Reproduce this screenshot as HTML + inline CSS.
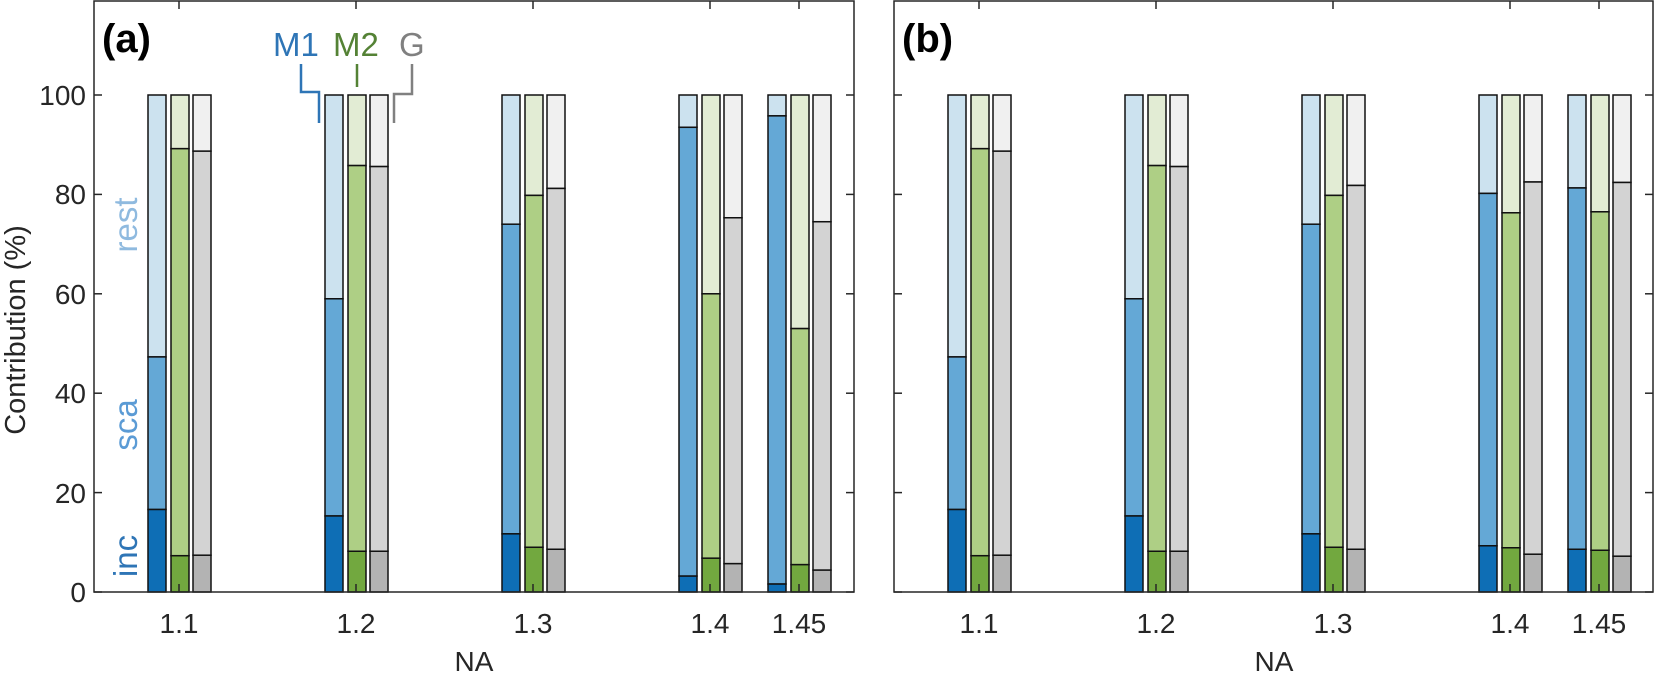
<!DOCTYPE html>
<html><head><meta charset="utf-8"><style>
html,body{margin:0;padding:0;background:#fff;}
svg{display:block;font-family:"Liberation Sans",Arial,sans-serif;}
</style></head><body>
<svg id="s" width="1654" height="673" viewBox="0 0 1654 673" xmlns="http://www.w3.org/2000/svg">
<rect width="1654" height="673" fill="#fff"/>
<g id="bars"></g>
<g id="axes" fill="none" stroke="#262626" stroke-width="1.5"></g>
<g font-size="28" fill="#262626" text-anchor="end">
<text x="86" y="602">0</text>
<text x="86" y="503">20</text>
<text x="86" y="403">40</text>
<text x="86" y="304">60</text>
<text x="86" y="204">80</text>
<text x="86" y="105">100</text>
</g>
<g font-size="28" fill="#262626" text-anchor="middle">
<text x="179" y="633">1.1</text>
<text x="356" y="633">1.2</text>
<text x="533" y="633">1.3</text>
<text x="710" y="633">1.4</text>
<text x="799" y="633">1.45</text>
<text x="979" y="633">1.1</text>
<text x="1156" y="633">1.2</text>
<text x="1333" y="633">1.3</text>
<text x="1510" y="633">1.4</text>
<text x="1599" y="633">1.45</text>
<text x="474" y="671">NA</text>
<text x="1274" y="671">NA</text>
</g>
<text transform="translate(25,330) rotate(-90)" font-size="29" fill="#262626" text-anchor="middle">Contribution (%)</text>
<text x="102" y="52" font-size="40" font-weight="bold" fill="#000">(a)</text>
<text x="902" y="52" font-size="40" font-weight="bold" fill="#000">(b)</text>
<g font-size="33">
<text x="273" y="56" fill="#2e75b6">M1</text>
<text x="333" y="56" fill="#548235">M2</text>
<text x="399" y="56" fill="#808080">G</text>
</g>
<g fill="none" stroke-width="2.5">
<polyline points="301,64 301,92 319,92 319,123" stroke="#2e75b6"/>
<polyline points="357,64 357,87" stroke="#548235"/>
<polyline points="412,64 412,94 394,94 394,123" stroke="#808080"/>
</g>
<g font-size="33" text-anchor="middle">
<text transform="translate(137,225) rotate(-90)" fill="#8fbadf">rest</text>
<text transform="translate(137,425) rotate(-90)" fill="#5b9bd5">sca</text>
<text transform="translate(137,556) rotate(-90)" fill="#2e75b6">inc</text>
</g>
</svg>
<script>
(function(){
var NS="http://www.w3.org/2000/svg";
function y(v){return 592-4.97*v;}
var cols=[["#0e6eb5","#64a8d6","#cce2ef"],["#72a83f","#aecf85","#e2ecd4"],["#b3b3b3","#d3d3d3","#f0f0f0"]];
var ticks=[179,356,533,710,799];
var A=[[[16.6,47.3],[7.3,89.2],[7.4,88.7]],[[15.3,59],[8.2,85.8],[8.2,85.6]],[[11.7,74],[9,79.8],[8.6,81.2]],[[3.2,93.5],[6.8,60],[5.7,75.3]],[[1.6,95.8],[5.5,53],[4.4,74.5]]];
var B=[[[16.6,47.3],[7.3,89.2],[7.4,88.7]],[[15.3,59],[8.2,85.8],[8.2,85.6]],[[11.7,74],[9,79.8],[8.6,81.8]],[[9.3,80.2],[8.9,76.3],[7.6,82.5]],[[8.6,81.3],[8.4,76.5],[7.2,82.4]]];
var g=document.getElementById("bars");
function r(x,y1,y2,f){var e=document.createElementNS(NS,"rect");e.setAttribute("x",x);e.setAttribute("y",y2);e.setAttribute("width",18);e.setAttribute("height",y1-y2);e.setAttribute("fill",f);e.setAttribute("stroke","#111");e.setAttribute("stroke-width","1.5");g.appendChild(e);}
[[A,0],[B,800]].forEach(function(p){
 p[0].forEach(function(grp,i){
  var t=ticks[i]+p[1];
  var offs=[-31,-8,14];
  grp.forEach(function(d,k){
   var x=t+offs[k];
   r(x,y(d[1]),y(100),cols[k][2]);
   r(x,y(d[0]),y(d[1]),cols[k][1]);
   r(x,y(0),y(d[0]),cols[k][0]);
  });
 });
});
var ax=document.getElementById("axes");
function l(x1,y1,x2,y2){var e=document.createElementNS(NS,"line");e.setAttribute("x1",x1);e.setAttribute("y1",y1);e.setAttribute("x2",x2);e.setAttribute("y2",y2);ax.appendChild(e);}
[[94,854],[894,1653]].forEach(function(p){
 var L=p[0],R=p[1];
 var e=document.createElementNS(NS,"rect");e.setAttribute("x",L);e.setAttribute("y",1);e.setAttribute("width",R-L);e.setAttribute("height",591);ax.appendChild(e);
 for(var v=0;v<=100;v+=20){var yy=y(v);l(L,yy,L+8,yy);l(R,yy,R-8,yy);}
 ticks.forEach(function(t){var x=t+(L-94);l(x,592,x,584);l(x,1,x,9);});
});
})();
</script>
</body></html>
